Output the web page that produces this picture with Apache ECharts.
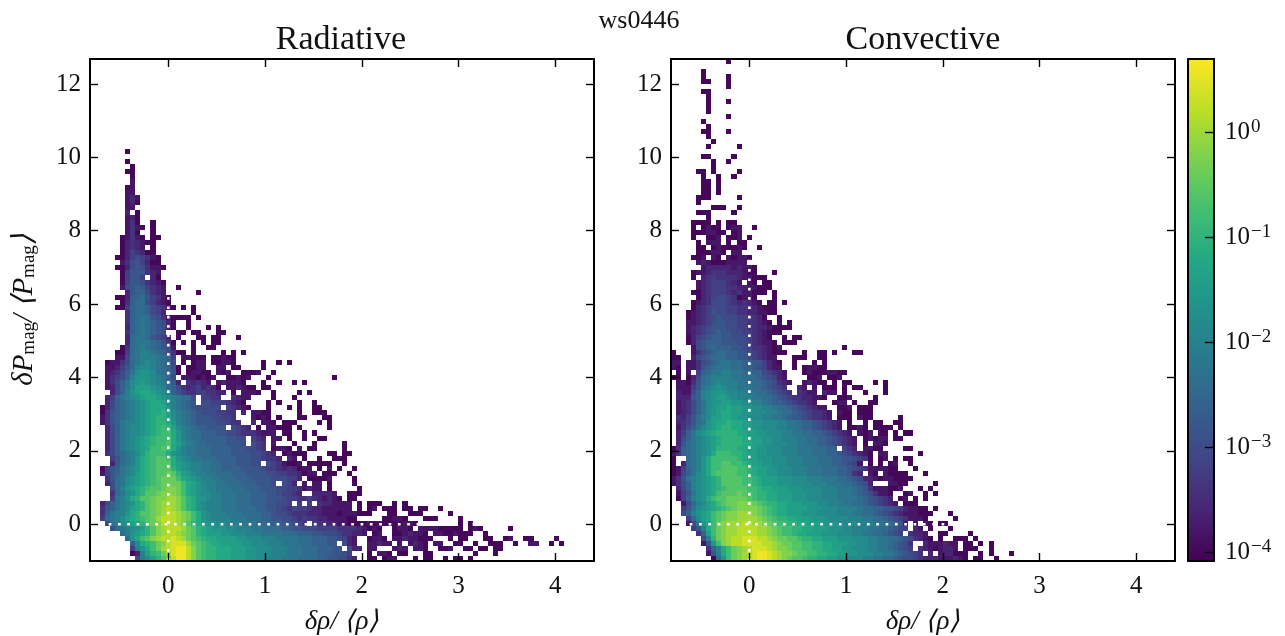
<!DOCTYPE html>
<html><head><meta charset="utf-8">
<style>html,body{margin:0;padding:0;background:#fff}#c{width:1285px;height:636px}</style>
<script src="https://cdn.jsdelivr.net/npm/echarts@6/dist/echarts.min.js"></script>
</head><body><div id="c"></div>
<script>
const suptitle = 'ws0446';
const panelTitles = ['Radiative', 'Convective'];
const xTicks = [0, 1, 2, 3, 4];
const yTicks = [0, 2, 4, 6, 8, 10, 12];
const colorTicks = [-4, -3, -2, -1, 0];
const xRange = [-0.81, 4.4];
const yRange = [-1, 12.68];
const colorRange = [-4.08, 0.7];
const binCount = 100;
const viridis = ['#440154','#482475','#414487','#355f8d','#2a788e','#21918c','#22a884','#44bf70','#7ad151','#bddf26','#fde725'];
// letter -> log10 of the density
const levelLetters = 'abcdefghijklmnopqrstuvwx';
const levelValues = [-4,-3.8,-3.6,-3.4,-3.2,-3,-2.8,-2.6,-2.4,-2.2,-2,-1.8,-1.6,-1.4,-1.2,-1,-0.8,-0.6,-0.4,-0.2,0,0.2,0.4,0.6];
// one string per row of bins, top row first; tokens are "firstColumn:levels"
const radiativeRows = [
"7:a","","7:a","8:a","7:aa","8:a","8:b","7:ab","7:bb","7:bcb","7:bca","7:bb","7:c 9:a","7:bca","7:bda 12:a",
"7:bdba 12:a","7:bda 12:a","6:abdba 12:aa","6:acdcbaa","6:acdcb 12:a","6:acedcaa",
"5:aacefedba","6:bdfgec 12:aa","5:aacfgfdbba","6:aegggdcb","6:aegge 12:ca","6:aeggfdcba","6:bfghgedcb 17:a","7:cghhfdcb 21:a",
"5:aachhigedba","6:adhiifecba","5:aaehiihfedb 16:a 18:a 20:a","7:dhiihfec 20:a","7:dhijigfdb 16:aaaa 21:a","7:dhijihgfca 19:a",
"7:chijihgfca 19:a 23:a 25:a","7:dhijihgf 17:aa 20:aa 25:aa","7:cijjigfec 17:a 21:aa 24:aa 29:a","7:cijjjihgda 18:a 20:a 22:a 24:aa",
"6:adijkjihgfb 20:a 23:aa","5:aaeijkkjihfd 17:aa 20:a 26:a 28:a 30:a","5:bbfijkkkjihe 18:bbaaa 24:aabaa",
"3:abbdfijklkjihf 18:a 20:abb 24:aabba 34:a 37:a 39:a","3:bbcegikllkjihfa 19:aabb 25:bb 28:aa 34:a",
"3:bcdfhjlmmljihg 17:a 19:abbaa 25:bab 30:aaab 36:a","3:bdefhkmmmlkjhf 18:bbba 22:bab 27:aabab 35:a 48:a",
"3:bdfhjlmnmlkjigc 19:dcdcb 25:bcb 28:bba 34:a 37:a 40:a 42:a","3:bcfhjlnnnmlkihf 18:dcdecdca 27:bbcbaa 34:aa",
"4:cfhkmnoonmlkhge 19:ddeeddcc 28:a 30:bbba 36:a 41:a 43:a","3:cehjklmnoonmlkjiif 22:eedd 28:dcbb 36:a 40:a",
"3:cfhijklmnoonlkjihg 22:ffeeedcba 35:a 37:a 41:a 44:a",
"2:acfhijklmnooomkjihgf 22:ffff 27:edcba 35:a 39:a 41:a 44:aa",
"2:adghijklmnoopnlkjihgf 23:ffeedd 30:c 32:bb 34:aa 41:a 44:aa 46:a",
"2:bdghijklmnoppnlkjihgg 23:gffeed 32:ba 34:ba 37:a 41:aa 46:aa",
"2:bdghjkklmnoppomkjihgg 23:ggffedd 32:c 34:bb 36:a 38:aaa 45:a 47:a",
"3:cfhjkllmnopqpnlkjihhg 24:ggg 28:fedc 33:a 35:bb 37:aa 39:a 41:a 47:a",
"3:cfhjkllmnopqqomkjiihh 24:hggffedd 32:dcb 35:bb 38:aa 42:a 44:a",
"3:cfhjklmnopqqqomkjiihh 24:hhhggff 32:edc 36:bb 39:a 42:a 45:aa",
"3:cfhjklmnopqqronlkjiih 24:hhhgggf 32:fed 36:b 40:a 44:a 50:a",
"3:cfhjklmnoqqrqomkjjiii 24:hhhhgggffed 36:ab 38:ba 41:b 43:aa 50:a",
"3:dfhijklnpqqqomlkjjiii 24:hhhhggggffed 36:c 38:aba 41:aa 47:aa 50:aa",
"4:egijkmopqrrqomlkjjiii 25:hhhhgggffed 36:dc 39:cb 42:a 45:a 48:aa 50:a",
"4:cgijkmopqrrronmlkkjji 25:ihhhgggf 33:f 35:fed 38:ba 40:ab 43:aa 45:aa 47:a 50:a",
"2:aeghjklmopqrrrpnmlkkjji 25:ihhhhggggfe 36:edc 39:dc 41:abb 45:a 47:b 49:a 52:a",
"2:beghjklnopqrrsrpnmlkkjj 25:iiihhhggggffe 38:ed 40:dc 42:abb 46:aa 48:a 51:a",
"3:dgijlmnopqrsssqonmlkkj 25:jiiihhhggggff 38:fe 40:ec 43:aaaab 52:a",
"3:cfijlmnopqrssssqonmlkkj 26:jiiihhhgg 35:gf 38:fe 40:c 42:b 44:bb 47:a 52:a",
"4:fikmnopqrrsttsqonmlkkj 26:jjiiihhhgggf 38:fe 40:ed 42:b 43:cbb 47:a 53:a",
"4:dijlmoprrstttsqonmllkk 26:jjjiiihhhggfe 39:edc 44:ccccb 51:aa 53:a",
"4:ejkmoprrsttuutrpommlkk 26:jjjiiihhhgggfe 40:edd 43:edcbcba 51:aa",
"2:cfhjklmoprstuuutrpomlkk 25:kjjjiiihhhggf 38:fe 41:e 43:e 45:dccbb 50:bb 53:a 55:aaa 60:a 62:a",
"2:dghjklnoprstuvutrpomlkk 25:kjjjiiiihhggfed 40:feedccbbbbbb 53:a 55:ab 58:aaa 62:aa 65:aa 69:a",
"2:dhjkkmoprrstuvvutsqomlkk 26:kjjjiiiihhgffed 41:ddcccbbba 50:bbba 54:aa 59:aa 63:aaa 71:a",
"2:eijklnopqrsuvvvutsqomlkk 26:kkjjjiiihhggffed 42:eddccbbbbaa 58:aabba 66:aaa 73:a",
"3:fjklmnoprstvvvutrponmmll 27:kkkjjjiiihhggfed 44:eddccbbaaaa 55:ba 57:baaaabba 73:a 75:a",
"4:gijklmnprtuvvvusrponmmml 28:lkkkjjjiiihhggfffee 47:eed 50:dddcb 55:aba 60:abba 65:bbbbaaaaa 75:aba 83:a",
"6:ikmnoprtuvvutsrponnn 26:mmlllkkkjjjjiiihhhggfffe 50:ddccb 56:ab 60:aa 62:bcbba 68:bbaabaa 75:a 78:a",
"7:imoqrtuvvwvusrqpoonnn 28:nmmlllkkkjjjjiiihhhgg 49:f 50:ecb 55:abba 60:bb 62:cbbaa 67:a 71:a 73:aa 78:aa 82:ab 86:aa 92:a",
"8:hlopqstvwwwusrqpoonnn 29:nmmlllkkkjjjiiihhhgg 50:fcb 55:bbcbb 61:b 63:bcba 68:bb 72:aa 76:a 79:aaa 84:a 87:bb 91:a 93:a",
"8:ekmoqsuvwxxvtrqppooon 29:nnmmlllkkkjjjiiihhhgg 51:fcc 55:bb 60:bcb 64:bba 69:aab 74:aa 77:aa 80:aa",
"8:acknpqsuwxxvtrqppooon 29:nnmmlllkkkjjjiiihhhg 49:g 50:fe 55:a 57:bba 61:aa 66:aa 76:a 80:a",
"9:fklnprtvxxvtrqppooonnnmmllkkkjjjiiiihhggff 51:dc 55:aa 58:abb 64:a 66:aa 70:a 72:aa 75:a"
];
const convectiveRows = [
"11:a","","6:a","6:a 11:a","6:aa 11:a","11:a","6:aa","7:a","7:a 11:a","7:a","7:a","11:a","6:a","7:a","6:aa 11:a","7:a","8:a","7:a 13:a","",
"6:aa 12:a","8:a 11:a","8:a","5:aa 8:a 13:a","6:a 9:a 12:a","6:aa 9:a","6:aa 9:a","6:aa 9:a","5:aaa 13:a","5:a","8:aa 10:a 13:a","5:aaa 12:a","7:a",
"4:aa 6:aa 9:a 11:aa","4:a 6:abaa 11:abb 16:a",
"4:aa 6:abba 10:a 12:ab","4:a 7:aab 11:aab 15:a","5:a 7:bbb 11:a 13:aa","5:aa 8:abaa 12:abb 14:a 17:a","5:aa 7:abb 10:a 12:bb",
"4:aab 8:ba 11:ba 13:bb 15:a","5:bcbaa 10:ab 12:bbb","6:bcccccbcbba","4:abbcdddccc 14:ba 16:a 20:a","4:a 6:cdeddddcbbaa 18:a",
"5:bcdeeedc 13:b 15:ba 18:aa","5:bcdeeeddccbba 17:aaa","4:aacdeeedcdbba 17:aa 20:a","5:acdeffedcb 13:a 15:ba 20:a",
"4:a 5:bcdfffedcdcba 19:a 20:a 22:a","4:a 5:cdefffeedddcba 19:aa","3:ab 5:cdegffeeddccbb 19:aa","3:abcdefgfffeeddcb 18:a 21:a",
"3:bbcdefggffeeddcb 18:ba 21:a 23:a","3:bcdefgggffeeddccbaaaa","3:bcdefghggffeedcba 20:aa","3:acefghhggfffedcba 22:a 24:aa",
"3:a 4:cfghhhgggffedcbba 22:aa 24:a","4:bfghihhhggfeddcbab 34:a",
"0:a 4:bdfghiihhggfedcbaa 22:a 26:a 29:a 30:a 32:a 36:aa","0:aa 4:cfghiiihhggfedcbb 24:aa 26:a 29:aa",
"0:bb 3:bb 5:dfghijjiihhggecba 24:a 28:a 30:a","0:ba 3:bb 5:dghijjjiihhgfecbb 24:a 26:abba 29:aa",
"1:a 3:b 5:ehijjkkjjiihhfedcb 26:abaa 30:abbb 33:a 34:a","0:aa 3:a 4:cfijkkkkjjiiihgfecb 27:aab 31:aab",
"1:bb 3:a 4:dgijklkkkjjiiihgfdcb 26:bcb 29:aa 32:a 34:aa 40:a 42:a","1:bb 3:b 4:egjklmlkkjjjiihgfed 25:cb 28:b 30:aa 32:a 34:a 36:aa 42:a",
"1:cb 3:b 4:fhklmmmllkkjjiihgfed 25:dcbb 30:cbb 34:a 38:a 42:a","1:ccc 4:ghklmnnmlkkkjjiihgfeddc 27:cbba 33:aab 40:a",
"1:bcdfhjlmmnnmmllkkjihhgfeddcb 32:abb 36:a 39:a 40:a",
"1:bcdfhjlmnnonnmmllkkjiihgfedcb 30:b 33:aab 37:a 38:aa",
"1:bcdfhjlmnoonnmmlllkkjiihgfeddcb 33:baa 37:aaa",
"1:dcegiklnnoonmmlllkkjjihggfeddcb 33:aa 35:a 37:ba 39:a 45:a",
"1:cdegijmnoopoonnmmlllkkjjihhgfedcb 35:a 38:a 40:aa 44:aa",
"1:bdfhjlmnoppoonnmmlllkkjjihhgfedcb 35:a 36:ab 38:a 40:aa 42:aa 45:a",
"1:cehjlmnoppppoonnmmlllkkjjiihhgfedcb 37:b 38:ab 41:aa 44:a 46:aa",
"1:cfhjklmnoppppoonnmmllkkkjjiihhgfed 35:cb 38:aba 41:bb 44:aa",
"1:cgijklmnoppppoonnmmlllkkjjiihhgfed 35:cb 38:a 40:bba",
"0:adhijklmnppppoonnmmlllkkkjjjiiihh 34:ed 36:c 38:bba 41:a 46:aa",
"0:bdhijklmoqqqpponnmmlllkkkjjjiiihhgfe 36:dcba 41:bb 49:a",
"0:a 3:ijkmoqqqqqponnmmmlllkkkjjjiiihhggfed 39:a 41:ab 44:a 46:aa",
"0:a 2:cijkmoqqrrqqponnmmlllkkkjjjiiihhg 35:fe 37:b 39:a 41:a 43:ab 47:a",
"0:abehjkmoqqrrrqqponnmmlllkkkjjjiiihh 35:gfed 39:bb 41:bba 44:a 48:a",
"0:abfhjlmoqrrrrqqponnmmlllkkkjjjiiihh 35:g 36:dc 39:ba 42:baa 45:aa 50:a",
"0:bdgjklmnoprrrrqqponnnmmmlllkkkjjjii 35:hgf 38:cc 40:ba 42:bbaaaa",
"0:bdfhklmnoprrrrqqponnnmmmllllkkkjjji 35:ihg 38:fc 43:bbaa 52:a",
"1:cfhklmnopqrrrrqqpoonnnmmmllllkkkjjj 36:ihg 39:db 41:bba 44:ab 49:a 51:a",
"1:begjlmnoqrrrsrrqppoonnnmmmlllkkkjjj 36:ihgf 40:db 42:ba 46:ab 50:a 52:a",
"1:aehklmoqrrssssrqppoonnnmmmlllkkkjjj 36:jihgfedc 45:ab 48:a 50:a",
"2:bfiklnoqrsstttsrqppoonnnmmmllkkkjjiihgfe 42:dcb 46:aaa",
"2:egjlmnopqrsttttsrqpoonnnnmmmlllkkkkjiihhggfe 46:cbbaa 49:a 52:a",
"2:fhkmnoqrsttuuutsrqpoonnnmmmllllkkkjjiihgfe 44:dcbbba 50:aa 55:a",
"3:eilnoqrsttuuuutsrqppoonnnmmmllllkkkjjiihgf 45:edb 48:bb 50:a 56:a",
"3:bfjmoqstuuuvvuutsrqqppoonnnmmmllllkkkjjiihg 46:b 48:b 50:ba 53:aa",
"4:egkoqstuuvvvvuutsrqqppoonnnmmmllkkkjjiihgfe 48:cb 51:a 55:a",
"5:dhnqstuuvvvvuutsrqqpoonnnmmmlllkkjjiihgfe 47:dc 49:cb 53:aa 59:a",
"6:fkpstuvvwwwvvutssrrqppoonnnmmmlllkkjjiihgfd 49:cba 53:a 56:aa 58:a 60:a",
"6:bgmqtuvvwwwwvvutssrrqqppoonnnmmllkkjjihgfd 50:cb 52:bbcbb 58:aa 61:a 63:a",
"7:dhkoqstuvwwwvuttsrrqqppoonnmmlllkkjjihgfe 49:dcb 52:abccb 58:aa 60:a 63:a",
"7:bgkoqstuvwxxwvuttsrrqqppoonnmmlllkkjjihgf 48:e 49:d 51:c 53:bcca 57:a 58:a 61:a 63:a 67:a",
"8:aimqstuvwxxwvutsrrqppoonnmmlllkkjjiihgffedcc 52:cbbbcba 60:a 61:a 64:a"
];
const dottedH = [[xRange[0], 0], [xRange[1], 0]];
const dottedV = [[0, yRange[0]], [0, yRange[1]]];

function cells(rows) {
  const dx = (xRange[1] - xRange[0]) / binCount, dy = (yRange[1] - yRange[0]) / binCount, out = [];
  rows.forEach((row, i) => {
    const r = rows.length - 1 - i;
    row.split(' ').filter(Boolean).forEach(tok => {
      const [start, letters] = tok.split(':');
      [...letters].forEach((ch, k) => {
        const c = +start + k;
        if (c < binCount) out.push([xRange[0] + c * dx, yRange[0] + r * dy, levelValues[levelLetters.indexOf(ch)], dx, dy]);
      });
    });
  });
  return out;
}
const serif = 'Liberation Serif';
const renderCell = (p, api) => {
  const a = api.coord([api.value(0), api.value(1)]);
  const b = api.coord([api.value(0) + api.value(3), api.value(1) + api.value(4)]);
  const x = Math.round(a[0]), y = Math.round(b[1]);
  return {type: 'rect', shape: {x, y, width: Math.round(b[0]) - x, height: Math.round(a[1]) - y}, style: {fill: api.visual('color')}};
};
const lineStyle = {color: '#000', width: 2};
const tickStyle = {color: '#000', width: 1.4};
const labelFont = {fontFamily: serif, fontSize: 25, color: '#111'};
const rows = [radiativeRows, convectiveRows];
const grids = [], xAxes = [], yAxes = [], series = [];
[[90, 0], [671, 1]].forEach(([left, k]) => {
  grids.push({left, top: 59, width: 504, height: 502, outerBoundsMode: 'none'});
  const base = {gridIndex: k, type: 'value', min: xRange[0], max: xRange[1], z: 10, splitLine: {show: false},
    axisLine: {show: true, onZero: false, lineStyle}};
  xAxes.push({...base, position: 'bottom', name: 'δρ/ ⟨ρ⟩', nameLocation: 'middle', nameGap: 47,
    nameTextStyle: {fontFamily: serif, fontSize: 27, fontStyle: 'italic', color: '#111'},
    axisTick: {inside: true, length: 8, lineStyle: tickStyle, customValues: xTicks},
    axisLabel: {...labelFont, margin: 13, customValues: xTicks, formatter: v => String(v)}});
  xAxes.push({...base, position: 'top', axisTick: {inside: true, length: 8, lineStyle: tickStyle, customValues: xTicks}, axisLabel: {show: false}});
  const ybase = {...base, min: yRange[0], max: yRange[1]};
  const yLeft = {...ybase, position: 'left', axisTick: {inside: true, length: 8, lineStyle: tickStyle, customValues: yTicks},
    axisLabel: {...labelFont, margin: 9, customValues: yTicks, formatter: v => String(v)}};
  if (k === 0) Object.assign(yLeft, {name: '{m|δP}{s|mag}{m|/ ⟨P}{s|mag}{m|⟩}', nameLocation: 'middle', nameGap: 51, nameRotate: 90,
    nameTextStyle: {rich: {m: {fontFamily: serif, fontSize: 29, fontStyle: 'italic', color: '#111'},
      s: {fontFamily: serif, fontSize: 19, color: '#111', padding: [10, 0, 0, 0]}}}});
  yAxes.push(yLeft);
  yAxes.push({...ybase, position: 'right', axisTick: {inside: true, length: 8, lineStyle: tickStyle, customValues: yTicks}, axisLabel: {show: false}});
  series.push({type: 'custom', xAxisIndex: k * 2, yAxisIndex: k * 2, data: cells(rows[k]), renderItem: renderCell, encode: {x: 0, y: 1}, dimensions: ['x', 'y', 'v', 'dx', 'dy'], clip: true, silent: true, z: 2});
  [dottedH, dottedV].forEach(d => series.push({type: 'line', xAxisIndex: k * 2, yAxisIndex: k * 2, data: d, symbol: 'none', silent: true, z: 5,
    lineStyle: {color: '#fff', width: 2.6, type: [2.7, 6.63], cap: 'butt'}}));
});
// colour bar frame and its log ticks
grids.push({left: 1188, top: 59, width: 26, height: 502, outerBoundsMode: 'none'});
const barLine = {show: true, onZero: false, lineStyle};
xAxes.push({gridIndex: 2, type: 'value', min: 0, max: 1, position: 'bottom', z: 10, axisLine: barLine, axisTick: {show: false}, axisLabel: {show: false}, splitLine: {show: false}});
xAxes.push({gridIndex: 2, type: 'value', min: 0, max: 1, position: 'top', z: 10, axisLine: barLine, axisTick: {show: false}, axisLabel: {show: false}, splitLine: {show: false}});
yAxes.push({gridIndex: 2, type: 'value', min: colorRange[0], max: colorRange[1], position: 'left', z: 10, axisLine: barLine, axisTick: {show: false}, axisLabel: {show: false}, splitLine: {show: false}});
yAxes.push({gridIndex: 2, type: 'value', min: colorRange[0], max: colorRange[1], position: 'right', z: 10, axisLine: barLine, splitLine: {show: false},
  axisTick: {inside: true, length: 9, lineStyle: tickStyle, customValues: colorTicks},
  axisLabel: {margin: 11, customValues: colorTicks, formatter: v => '{b|10}{u|' + (v === 0 ? '0' : '−' + Math.abs(v)) + '}',
    rich: {b: {fontFamily: serif, fontSize: 25, color: '#111'}, u: {fontFamily: serif, fontSize: 19, color: '#111', padding: [0, 0, 11, 1]}}}});

const chart = echarts.init(document.getElementById('c'), null, {renderer: 'canvas'});
chart.setOption({
  animation: false, backgroundColor: '#fff',
  title: [
    {text: suptitle, left: 634, top: 3, textAlign: 'center', textStyle: {fontFamily: serif, fontSize: 26, fontWeight: 'normal', color: '#111'}},
    {text: panelTitles[0], left: 336, top: 18, textAlign: 'center', textStyle: {fontFamily: serif, fontSize: 34, fontWeight: 'normal', color: '#111'}},
    {text: panelTitles[1], left: 918, top: 18, textAlign: 'center', textStyle: {fontFamily: serif, fontSize: 34, fontWeight: 'normal', color: '#111'}}
  ],
  grid: grids, xAxis: xAxes, yAxis: yAxes, series,
  visualMap: {type: 'continuous', min: colorRange[0], max: colorRange[1], dimension: 2, seriesIndex: [0, 3], inRange: {color: viridis},
    left: 1188, top: 59, itemWidth: 26, itemHeight: 502, calculable: false, showLabel: false, text: null, padding: 0, hoverLink: false, z: 4}
});
</script></body></html>
